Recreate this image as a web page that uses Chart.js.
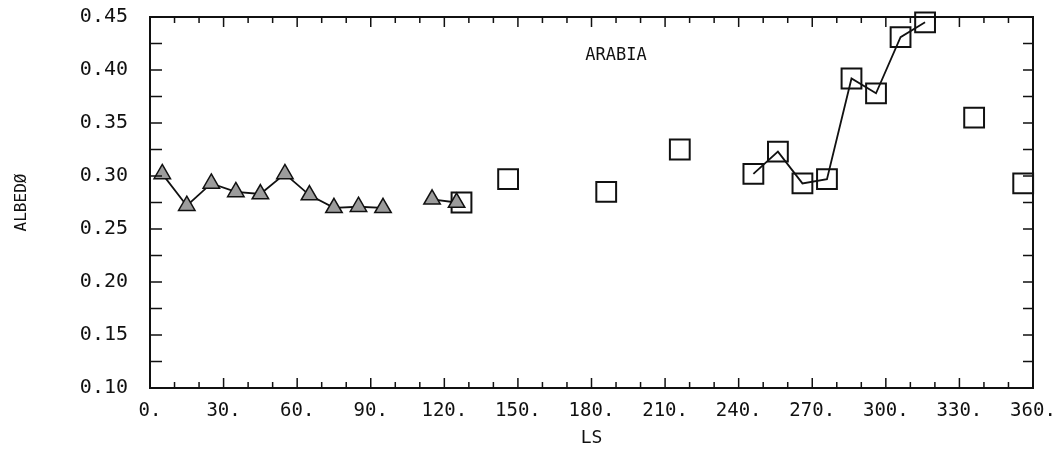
<!DOCTYPE html>
<html>
<head>
<meta charset="utf-8">
<script src="https://cdn.jsdelivr.net/npm/chart.js@4/dist/chart.umd.min.js"></script>
<style>
    html, body { margin: 0; padding: 0; background: #fff; }
    #wrap { width: 1055px; height: 455px; }
</style>
</head>
<body>
<div id="wrap"><canvas id="albedoChart"></canvas></div>
<script>
// LS (deg) and albedo; null breaks the connecting line
const triLs     = [5, 15, 25, 35, 45, 55, 65, 75, 85, 95, 105, 115, 125];
const triAlbedo = [0.302, 0.272, 0.293, 0.285, 0.283, 0.302, 0.282, 0.270, 0.271, 0.270, null, 0.278, 0.275];

const sqLs     = [127, 136, 146, 166, 186, 200, 216, 230, 246, 256, 266, 276, 286, 296, 306, 316, 326, 336, 346, 356];
const sqAlbedo = [0.275, null, 0.297, null, 0.285, null, 0.325, null, 0.302, 0.323, 0.293, 0.297, 0.392, 0.378, 0.431, 0.445, null, 0.355, null, 0.293];

const xTicks = [0, 30, 60, 90, 120, 150, 180, 210, 240, 270, 300, 330, 360];
const yTicks = [0.10, 0.15, 0.20, 0.25, 0.30, 0.35, 0.40, 0.45];
const regionLabel = 'ARABIA';

const FONT = '"DejaVu Sans Mono", monospace';

function toPoints(xs, ys) {
    return xs.map((x, i) => ({ x: x, y: ys[i] }));
}

// box around the plot with ticks pointing inward, plus the region label
const frame = {
    id: 'frame',
    afterDatasetsDraw(chart) {
        const { ctx, chartArea: a, scales } = chart;
        const xs = scales.x, ys = scales.y;
        ctx.save();
        ctx.strokeStyle = '#111';
        ctx.lineWidth = 2;
        ctx.strokeRect(a.left, a.top, a.right - a.left, a.bottom - a.top);
        ctx.lineWidth = 1.5;
        ctx.beginPath();
        for (let v = 0; v <= 360; v += 10) {
            const px = xs.getPixelForValue(v);
            const len = v % 30 === 0 ? 10 : 6;
            ctx.moveTo(px, a.bottom); ctx.lineTo(px, a.bottom - len);
            ctx.moveTo(px, a.top); ctx.lineTo(px, a.top + len);
        }
        for (let v = 0.10; v <= 0.4501; v += 0.025) {
            const py = ys.getPixelForValue(v);
            ctx.moveTo(a.left, py); ctx.lineTo(a.left + 12, py);
            ctx.moveTo(a.right, py); ctx.lineTo(a.right - 10, py);
        }
        ctx.stroke();

        ctx.fillStyle = '#111';
        ctx.font = '17px ' + FONT;
        ctx.textAlign = 'center';
        ctx.textBaseline = 'middle';
        ctx.fillText(regionLabel, xs.getPixelForValue(190), ys.getPixelForValue(0.414));
        ctx.restore();
    }
};

new Chart(document.getElementById('albedoChart'), {
    type: 'line',
    data: {
        datasets: [{
            label: 'triangles',
            data: toPoints(triLs, triAlbedo),
            borderColor: '#111',
            borderWidth: 1.8,
            pointStyle: 'triangle',
            pointRadius: 9.5,
            pointBackgroundColor: '#9c9c9c',
            pointBorderColor: '#111',
            pointBorderWidth: 1.5,
            spanGaps: false,
            tension: 0,
            clip: false
        }, {
            label: 'squares',
            data: toPoints(sqLs, sqAlbedo),
            borderColor: '#111',
            borderWidth: 1.8,
            pointStyle: 'rect',
            pointRadius: 14,
            pointBackgroundColor: 'rgba(0,0,0,0)',
            pointBorderColor: '#111',
            pointBorderWidth: 2,
            spanGaps: false,
            tension: 0,
            clip: false
        }]
    },
    options: {
        responsive: true,
        maintainAspectRatio: false,
        animation: false,
        layout: { padding: { top: 17, right: 22, left: 0, bottom: 0 } },
        plugins: {
            legend: { display: false },
            tooltip: { enabled: false }
        },
        scales: {
            x: {
                type: 'linear',
                min: 0,
                max: 360,
                grid: { display: false, drawTicks: false },
                border: { display: false },
                afterFit: function(scale) {
                    scale.height = 67;
                    scale.paddingLeft = 0;
                    scale.paddingRight = 0;
                },
                afterBuildTicks: function(scale) {
                    scale.ticks = xTicks.map(v => ({ value: v }));
                },
                ticks: {
                    padding: 12,
                    color: '#111',
                    font: { family: FONT, size: 19 },
                    maxRotation: 0,
                    autoSkip: false,
                    callback: function(value) { return value + '.'; }
                },
                title: {
                    display: true,
                    text: 'LS',
                    color: '#111',
                    font: { family: FONT, size: 18 },
                    padding: { top: 0, bottom: 6 }
                }
            },
            y: {
                min: 0.10,
                max: 0.45,
                grid: { display: false, drawTicks: false },
                border: { display: false },
                afterFit: function(scale) {
                    scale.width = 150;
                    scale.paddingTop = 0;
                    scale.paddingBottom = 0;
                },
                afterBuildTicks: function(scale) {
                    scale.ticks = yTicks.map(v => ({ value: v }));
                },
                ticks: {
                    padding: 22,
                    color: '#111',
                    font: { family: FONT, size: 20 },
                    autoSkip: false,
                    callback: function(value) { return Number(value).toFixed(2); }
                },
                title: {
                    display: true,
                    text: 'ALBEDØ',
                    color: '#111',
                    font: { family: FONT, size: 16 },
                    padding: { top: 12, bottom: 0 }
                }
            }
        }
    },
    plugins: [frame]
});
</script>
</body>
</html>
